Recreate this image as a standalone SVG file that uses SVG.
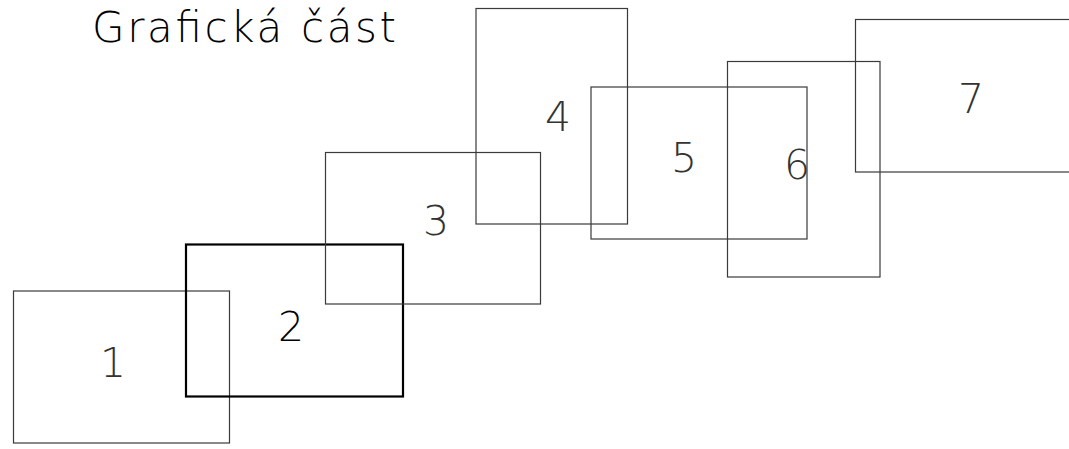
<svg xmlns="http://www.w3.org/2000/svg" width="1069" height="449" viewBox="0 0 1069 449">
<style>
.box{fill:none;stroke:#3a3a3a;stroke-width:1.2}
.bold{fill:none;stroke:#000;stroke-width:2.2}
.num{font-family:"DejaVu Sans","Liberation Sans",sans-serif;font-weight:200;font-size:41px;fill:#333;text-anchor:middle}
.title{font-family:"DejaVu Sans","Liberation Sans",sans-serif;font-weight:300;font-size:42px;fill:#000}
</style>
<rect width="1069" height="449" fill="#fff"/>
<text class="title" x="92" y="42" textLength="304" lengthAdjust="spacing">Grafická část</text>
<g id="connectors"></g>
<g id="n1"><rect class="box" x="13.5" y="291" width="216" height="152"/><text class="num" x="113" y="377">1</text></g>
<g id="n2"><rect class="bold" x="186" y="244.5" width="217" height="152"/><text class="num" x="291" y="341" style="fill:#000;font-weight:300">2</text></g>
<g id="n3"><rect class="box" x="325.5" y="152.5" width="215" height="151.5"/><text class="num" x="436" y="235">3</text></g>
<g id="n4"><rect class="box" x="476" y="8.5" width="151.5" height="215.5"/><text class="num" x="558" y="131">4</text></g>
<g id="n5"><rect class="box" x="591" y="87" width="216" height="152"/><text class="num" x="684" y="172">5</text></g>
<g id="n6"><rect class="box" x="727.5" y="61.5" width="152.5" height="215.5"/><text class="num" x="797" y="179">6</text></g>
<g id="n7"><rect class="box" x="855.5" y="19.5" width="216" height="152.5"/><text class="num" x="971" y="113">7</text></g>
</svg>
